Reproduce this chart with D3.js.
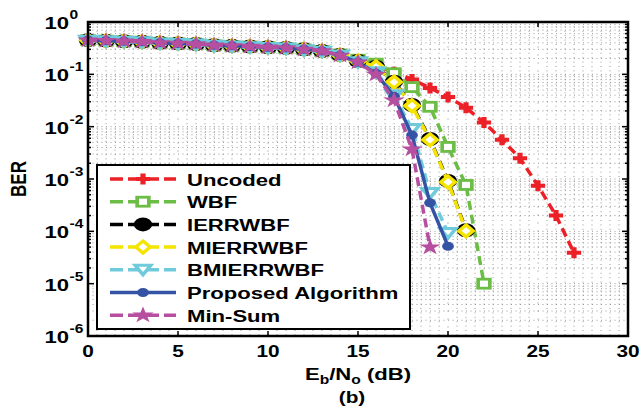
<!DOCTYPE html>
<html>
<head>
<meta charset="utf-8">
<script src="https://cdn.jsdelivr.net/npm/d3@7"></script>
<style>
body { margin: 0; background: #fff; }
text { font-family: "Liberation Sans", Arial, sans-serif; font-weight: bold; }
</style>
</head>
<body>
<div id="chart"></div>
<script>
// Eb/No (dB) and BER values
var snrUncoded = d3.range(0, 28);
var berUncoded = [0.46, 0.45, 0.44, 0.43, 0.41, 0.40, 0.39, 0.37, 0.36, 0.35,
    0.34, 0.33, 0.31, 0.29, 0.25, 0.19, 0.145, 0.11, 0.08, 0.055,
    0.037, 0.023, 0.012, 0.0056, 0.0025, 7.4e-4, 2.0e-4, 3.9e-5];

var snrWbf = d3.range(0, 23);
var berWbf = [0.45, 0.44, 0.43, 0.42, 0.40, 0.39, 0.38, 0.36, 0.35, 0.34,
    0.33, 0.32, 0.30, 0.28, 0.24, 0.19, 0.16, 0.105, 0.057, 0.024,
    0.0041, 7.7e-4, 1.0e-5];

var snrIerr = d3.range(0, 22);
var berIerr = [0.45, 0.44, 0.43, 0.42, 0.40, 0.39, 0.38, 0.36, 0.35, 0.34,
    0.33, 0.32, 0.30, 0.28, 0.235, 0.18, 0.14, 0.072, 0.026, 0.0058,
    9.2e-4, 1.05e-4];

var snrMierr = d3.range(0, 22);
var berMierr = [0.45, 0.44, 0.43, 0.42, 0.40, 0.39, 0.38, 0.36, 0.35, 0.34,
    0.33, 0.32, 0.30, 0.28, 0.235, 0.18, 0.14, 0.071, 0.025, 0.0056,
    8.8e-4, 1.02e-4];

var snrBmierr = d3.range(0, 21);
var berBmierr = [0.44, 0.43, 0.42, 0.41, 0.39, 0.38, 0.37, 0.35, 0.34, 0.33,
    0.32, 0.31, 0.29, 0.27, 0.23, 0.17, 0.11, 0.04, 0.009, 5.4e-4,
    9.3e-5];

var snrProposed = d3.range(0, 21);
var berProposed = [0.45, 0.44, 0.43, 0.42, 0.40, 0.39, 0.38, 0.36, 0.35, 0.34,
    0.33, 0.32, 0.30, 0.28, 0.23, 0.17, 0.105, 0.038, 0.0069, 3.5e-4,
    5.2e-5];

var snrMinsum = d3.range(0, 20);
var berMinsum = [0.45, 0.44, 0.43, 0.42, 0.40, 0.39, 0.38, 0.36, 0.35, 0.34,
    0.33, 0.32, 0.30, 0.28, 0.23, 0.17, 0.10, 0.032, 0.0037, 5.0e-5];

var seriesNames = ["Uncoded", "WBF", "IERRWBF", "MIERRWBF", "BMIERRWBF",
    "Proposed Algorithm", "Min-Sum"];
var xTicks = [0, 5, 10, 15, 20, 25, 30];
var yDecades = [0, -1, -2, -3, -4, -5, -6];

// the original figure is stretched sideways, so glyphs are widened
var STRETCH = 1.3;

// set several attributes at once (no d3-selection-multi here)
function setAttrs(sel, obj) {
    "use strict";
    Object.keys(obj).forEach(function(k) { sel.attr(k, obj[k]); });
    return sel;
}

// widened text placed at (x, y)
function addText(parent, x, y, str, size, anchor) {
    "use strict";
    var g = parent.append("g")
        .attr("transform", "translate(" + x + "," + y + ") scale(" + STRETCH + ",1)");
    return g.append("text")
        .attr("font-size", size)
        .attr("text-anchor", anchor || "start")
        .text(str);
}

function makeSeries() {
    "use strict";
    var xs = [snrUncoded, snrWbf, snrIerr, snrMierr, snrBmierr, snrProposed, snrMinsum];
    var ys = [berUncoded, berWbf, berIerr, berMierr, berBmierr, berProposed, berMinsum];
    var styles = [
        {color: "#ec2027", dash: "9,5", marker: "plus"},
        {color: "#6bbd45", dash: "9,5", marker: "square"},
        {color: "#000000", dash: "9,5", marker: "circle"},
        {color: "#f4e400", dash: "9,5", marker: "diamond"},
        {color: "#6fcbdc", dash: "9,5", marker: "triangle"},
        {color: "#3453a4", dash: null, marker: "dot"},
        {color: "#b64f9f", dash: "9,5", marker: "star"}
    ];
    return seriesNames.map(function(name, i) {
        return {
            name: name,
            style: styles[i],
            points: xs[i].map(function(x, j) { return {x: x, y: ys[i][j]}; })
        };
    });
}

// draw one marker centred at (0,0) inside group g
function drawMarker(g, type, color) {
    "use strict";
    if (type === "plus") {
        g.append("path").attr("d", "M-5.5,0H5.5M0,-5.5V5.5")
            .attr("stroke", color).attr("stroke-width", 4).attr("fill", "none");
    } else if (type === "square") {
        setAttrs(g.append("rect"), {x: -4.5, y: -4.5, width: 9, height: 9})
            .attr("fill", "#fff").attr("stroke", color).attr("stroke-width", 2.8);
    } else if (type === "circle") {
        g.append("circle").attr("r", 7).attr("fill", color);
    } else if (type === "diamond") {
        g.append("path").attr("d", "M0,-6L5.5,0L0,6L-5.5,0Z")
            .attr("fill", "#fff").attr("stroke", color).attr("stroke-width", 3);
    } else if (type === "triangle") {
        g.append("path").attr("d", "M-6,-4.5L6,-4.5L0,5Z")
            .attr("fill", "#fff").attr("stroke", color).attr("stroke-width", 3);
    } else if (type === "dot") {
        g.append("circle").attr("r", 4.5).attr("fill", color);
    } else if (type === "star") {
        g.append("path")
            .attr("d", d3.symbol().type(d3.symbolStar).size(85)())
            .attr("fill", color);
    }
}

function drawChart() {
    "use strict";
    var width = 643, height = 414;
    var margin = {left: 88, right: 15, top: 22, bottom: 78};
    var svg = d3.select("#chart").append("svg")
        .attr("width", width).attr("height", height);

    var x = d3.scaleLinear().domain([0, 30])
        .range([margin.left, width - margin.right]);
    var y = d3.scaleLog().domain([1e-6, 1])
        .range([height - margin.bottom, margin.top]);

    var x0 = x.range()[0], x1 = x.range()[1];
    var y0 = y.range()[0], y1 = y.range()[1];

    // grid: vertical every 0.5 dB, horizontal at log minor steps
    var grid = svg.append("g").attr("class", "grid");
    d3.range(0.5, 30, 0.5).forEach(function(v) {
        setAttrs(grid.append("line"), {x1: x(v), x2: x(v), y1: y1, y2: y0})
            .attr("stroke", v % 5 === 0 ? "#c4c4c4" : "#999")
            .attr("stroke-width", 1)
            .attr("stroke-dasharray", v % 5 === 0 ? "2,6" : "1,3.4");
    });
    yDecades.forEach(function(e) {
        d3.range(1, 10).forEach(function(m) {
            var v = m * Math.pow(10, e);
            if (v >= 1 || (e === -6 && m === 1)) { return; }
            setAttrs(grid.append("line"), {x1: x0, x2: x1, y1: y(v), y2: y(v)})
                .attr("stroke", "#999").attr("stroke-width", 1)
                .attr("stroke-dasharray", "1,3.5");
        });
    });

    // ticks (inside, both sides)
    var ticks = svg.append("g").attr("stroke", "#000").attr("stroke-width", 1.5);
    xTicks.forEach(function(v) {
        setAttrs(ticks.append("line"), {x1: x(v), x2: x(v), y1: y0, y2: y0 - 5});
        setAttrs(ticks.append("line"), {x1: x(v), x2: x(v), y1: y1, y2: y1 + 5});
    });
    yDecades.forEach(function(e) {
        d3.range(1, 10).forEach(function(m) {
            var v = m * Math.pow(10, e);
            if (v > 1 || (e === -6 && m > 1)) { return; }
            var len = m === 1 ? 6 : 3;
            setAttrs(ticks.append("line"), {x1: x0, x2: x0 + len, y1: y(v), y2: y(v)});
            setAttrs(ticks.append("line"), {x1: x1, x2: x1 - len, y1: y(v), y2: y(v)});
        });
    });

    // curves
    var series = makeSeries();
    var line = d3.line()
        .x(function(d) { return x(d.x); })
        .y(function(d) { return y(d.y); });
    series.forEach(function(s) {
        var g = svg.append("g");
        g.append("path").datum(s.points)
            .attr("d", line)
            .attr("fill", "none")
            .attr("stroke", s.style.color)
            .attr("stroke-width", 3.5)
            .attr("stroke-dasharray", s.style.dash);
        s.points.forEach(function(p) {
            var m = g.append("g")
                .attr("transform", "translate(" + x(p.x) + "," + y(p.y) + ") scale(" + STRETCH + ",1)");
            drawMarker(m, s.style.marker, s.style.color);
        });
    });

    // axes box
    setAttrs(svg.append("rect"), {x: x0, y: y1, width: x1 - x0, height: y0 - y1})
        .attr("fill", "none").attr("stroke", "#000").attr("stroke-width", 2.5);

    // tick labels
    xTicks.forEach(function(v) {
        addText(svg, x(v), y0 + 21, String(v), 16, "middle");
    });
    yDecades.forEach(function(e) {
        var yy = y(Math.pow(10, e));
        addText(svg, 69, yy + 7, "10", 17, "end");
        addText(svg, 69.5, yy - 3, String(e), 12, "start");
    });

    // axis titles
    svg.append("text")
        .attr("transform", "translate(26," + ((y0 + y1) / 2) + ") scale(" + STRETCH + ",1) rotate(-90)")
        .attr("text-anchor", "middle").attr("font-size", 17).text("BER");
    var xl = addText(svg, (x0 + x1) / 2, y0 + 44, "", 17, "middle");
    xl.append("tspan").text("E");
    xl.append("tspan").attr("dy", 4).attr("font-size", 12).text("b");
    xl.append("tspan").attr("dy", -4).text("/N");
    xl.append("tspan").attr("dy", 4).attr("font-size", 12).text("o");
    xl.append("tspan").attr("dy", -4).text(" (dB)");
    addText(svg, (x0 + x1) / 2 - 6, y0 + 67, "(b)", 16, "middle");

    // legend
    var lg = svg.append("g");
    setAttrs(lg.append("rect"), {x: 97, y: 165, width: 313, height: 164})
        .attr("fill", "#fff").attr("stroke", "#000").attr("stroke-width", 2);
    series.forEach(function(s, i) {
        var cy = 179 + i * 22.7;
        setAttrs(lg.append("line"), {x1: 110, x2: 176, y1: cy, y2: cy})
            .attr("stroke", s.style.color).attr("stroke-width", 3.5)
            .attr("stroke-dasharray", s.style.dash ? "13,5" : null);
        var m = lg.append("g").attr("transform", "translate(143," + cy + ") scale(" + STRETCH + ",1)");
        drawMarker(m, s.style.marker, s.style.color);
        addText(lg, 187, cy + 6.5, s.name, 17, "start");
    });
}

drawChart();
</script>
</body>
</html>
